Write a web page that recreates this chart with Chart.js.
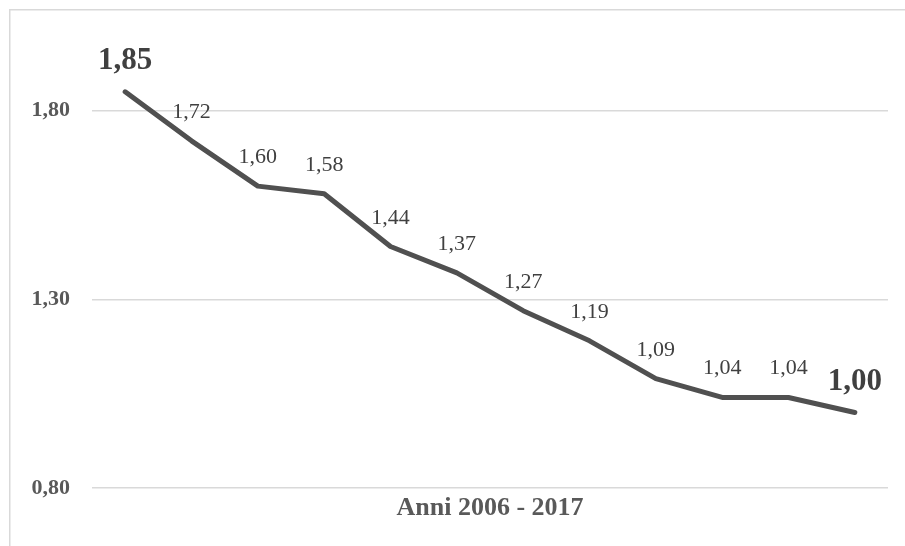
<!DOCTYPE html>
<html>
<head>
<meta charset="utf-8">
<script src="https://cdn.jsdelivr.net/npm/chart.js@4.4.1/dist/chart.umd.min.js"></script>
<style>
  html, body { margin: 0; padding: 0; background: #ffffff; }
  #wrap { width: 905px; height: 546px; position: relative; }
</style>
</head>
<body>
<div id="wrap"><canvas id="c" width="905" height="546"></canvas></div>
<script>
// Anni 2006 - 2017
const years = ['2006', '2007', '2008', '2009', '2010', '2011', '2012', '2013', '2014', '2015', '2016', '2017'];
const values = [1.85, 1.72, 1.60, 1.58, 1.44, 1.37, 1.27, 1.19, 1.09, 1.04, 1.04, 1.00];
const yTicks = [0.80, 1.30, 1.80];
const axisTitle = 'Anni 2006 - 2017';

const fmt = v => v.toFixed(2).replace('.', ',');
const SERIF = '"Liberation Serif", "DejaVu Serif", serif';

// light frame around the chart area
const framePlugin = {
  id: 'frame',
  beforeDraw(chart) {
    const ctx = chart.ctx;
    ctx.save();
    ctx.fillStyle = '#ffffff';
    ctx.fillRect(0, 0, chart.width, chart.height);
    ctx.fillStyle = '#d9d9d9';
    ctx.fillRect(9, 9, chart.width - 9, 1.5);
    ctx.fillRect(9, 9, 1.5, chart.height - 9);
    ctx.restore();
  }
};

// value labels above each point; first and last drawn larger and bold
const valueLabels = {
  id: 'valueLabels',
  afterDatasetsDraw(chart) {
    const ctx = chart.ctx;
    const meta = chart.getDatasetMeta(0);
    const last = values.length - 1;
    ctx.save();
    ctx.textAlign = 'center';
    ctx.textBaseline = 'alphabetic';
    meta.data.forEach((pt, i) => {
      const strong = (i === 0 || i === last);
      ctx.font = strong ? 'bold 31px ' + SERIF : '22px ' + SERIF;
      ctx.fillStyle = '#404040';
      ctx.fillText(fmt(values[i]), pt.x, pt.y - 23);
    });
    ctx.restore();
  }
};

new Chart(document.getElementById('c'), {
  type: 'line',
  data: {
    labels: years,
    datasets: [{
      data: values,
      borderColor: '#505050',
      borderWidth: 5,
      borderCapStyle: 'round',
      borderJoinStyle: 'round',
      pointRadius: 0,
      pointHoverRadius: 0,
      tension: 0,
      fill: false
    }]
  },
  options: {
    responsive: false,
    animation: false,
    events: [],
    layout: { padding: { left: 0, right: 17, top: 7, bottom: 0 } },
    plugins: {
      legend: { display: false },
      tooltip: { enabled: false }
    },
    scales: {
      x: {
        type: 'category',
        offset: true,
        grid: { display: false },
        border: { display: false },
        ticks: { display: false },
        afterFit(scale) { scale.height = 58; },
        title: {
          display: true,
          text: axisTitle,
          color: '#595959',
          font: { family: SERIF, size: 26, weight: 'bold' },
          padding: { top: 4, bottom: 22 }
        }
      },
      y: {
        min: 0.8,
        max: 2.0,
        afterBuildTicks(scale) {
          scale.ticks = yTicks.map(v => ({ value: v }));
        },
        afterFit(scale) { scale.width = 92; },
        grid: { color: '#d9d9d9', lineWidth: 1.5, drawTicks: false },
        border: { display: false },
        ticks: {
          padding: 22,
          color: '#595959',
          font: { family: SERIF, size: 22, weight: 'bold' },
          callback: v => fmt(v)
        }
      }
    }
  },
  plugins: [framePlugin, valueLabels]
});
</script>
</body>
</html>
